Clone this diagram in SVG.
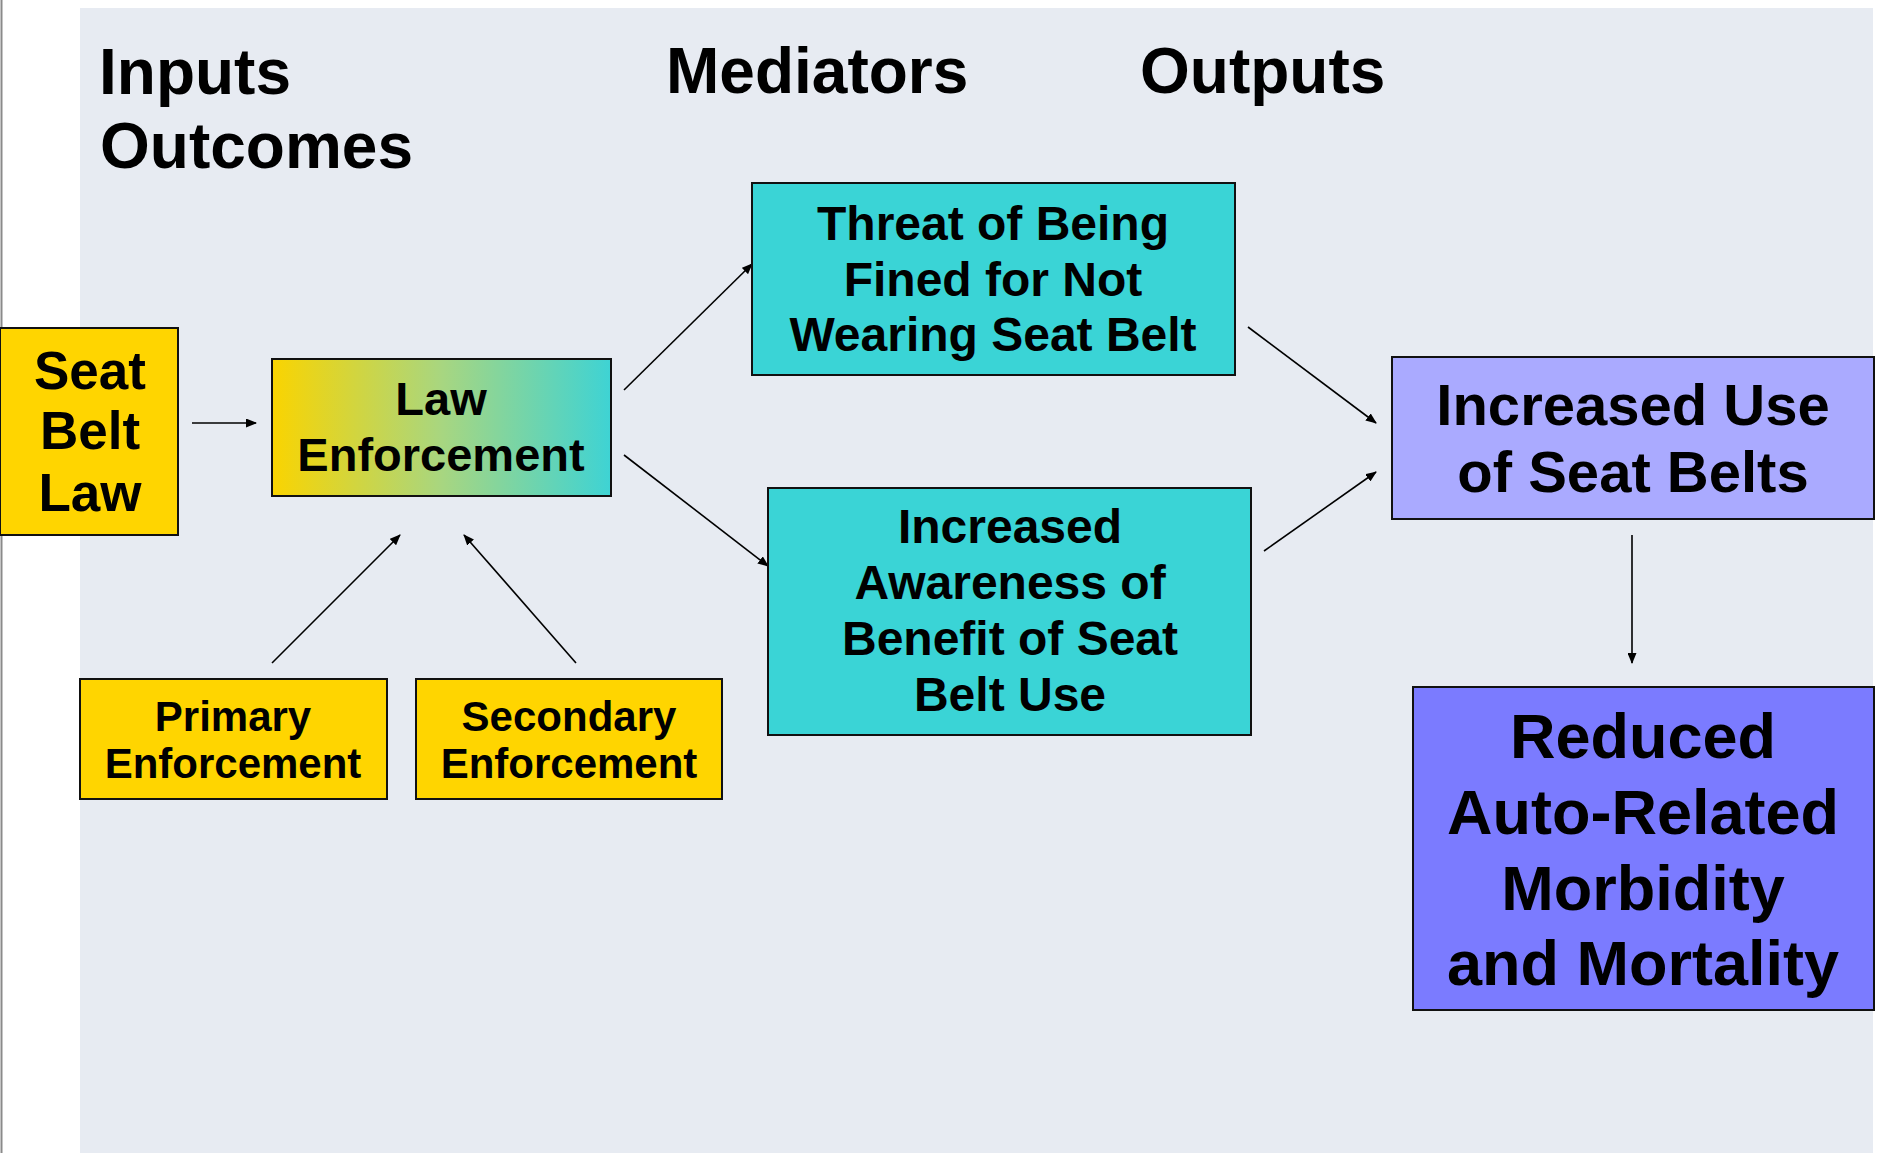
<svg xmlns="http://www.w3.org/2000/svg" width="1878" height="1153" viewBox="0 0 1878 1153">
<defs>
<style>
.t{font-family:"Liberation Sans",Arial,sans-serif;font-weight:bold;fill:#000;}
.hd{font-size:64px;}
.box{stroke:#111;stroke-width:2;}
.yel{fill:#FFD500;}
.tq{fill:#3AD4D6;}
.lp{fill:#AAAAFF;}
.dp{fill:#7B7BFF;}
.c{text-anchor:middle;}
.conn line{stroke:#000;stroke-width:1.6;marker-end:url(#ah);}
</style>
<marker id="ah" markerUnits="userSpaceOnUse" markerWidth="11" markerHeight="9" refX="10" refY="4.5" orient="auto">
<path d="M0,0 L11,4.5 L0,9 z" fill="#000"/>
</marker>
<linearGradient id="lg" x1="0" y1="0" x2="1" y2="0">
<stop offset="0" stop-color="#FAD400"/>
<stop offset="0.5" stop-color="#A8D680"/>
<stop offset="1" stop-color="#3ED3D4"/>
</linearGradient>
</defs>
<rect x="0" y="0" width="1878" height="1153" fill="#FFFFFF"/>
<rect x="80" y="8" width="1793" height="1145" fill="#E7EBF2"/>
<line x1="1.5" y1="0" x2="1.5" y2="1153" stroke="#8A8A8A" stroke-width="2"/>

<g id="headers">
<text class="t hd" x="99" y="94">Inputs</text>
<text class="t hd" x="100" y="168">Outcomes</text>
<text class="t hd" x="666" y="93">Mediators</text>
<text class="t hd" x="1140" y="93">Outputs</text>
</g>

<g class="conn" id="connectors">
<line x1="192" y1="423" x2="256" y2="423"/>
<line x1="624" y1="390" x2="752" y2="264"/>
<line x1="624" y1="455" x2="768" y2="566"/>
<line x1="272" y1="663" x2="400" y2="535"/>
<line x1="576" y1="663" x2="464" y2="535"/>
<line x1="1248" y1="327" x2="1376" y2="423"/>
<line x1="1264" y1="551" x2="1376" y2="472"/>
<line x1="1632" y1="535" x2="1632" y2="663"/>
</g>

<g id="seat-belt-law">
<rect class="box yel" x="0" y="328" width="178" height="207"/>
<text class="t c" x="90" y="389" font-size="53">Seat</text>
<text class="t c" x="90" y="449" font-size="53">Belt</text>
<text class="t c" x="90" y="511" font-size="53">Law</text>
</g>

<g id="law-enforcement">
<rect class="box" x="272" y="359" width="339" height="137" fill="url(#lg)"/>
<text class="t c" x="441" y="415" font-size="47">Law</text>
<text class="t c" x="441" y="471" font-size="47">Enforcement</text>
</g>

<g id="primary-enforcement">
<rect class="box yel" x="80" y="679" width="307" height="120"/>
<text class="t c" x="233" y="731" font-size="42">Primary</text>
<text class="t c" x="233" y="778" font-size="42">Enforcement</text>
</g>

<g id="secondary-enforcement">
<rect class="box yel" x="416" y="679" width="306" height="120"/>
<text class="t c" x="569" y="731" font-size="42">Secondary</text>
<text class="t c" x="569" y="778" font-size="42">Enforcement</text>
</g>

<g id="threat">
<rect class="box tq" x="752" y="183" width="483" height="192"/>
<text class="t c" x="993" y="240" font-size="48">Threat of Being</text>
<text class="t c" x="993" y="296" font-size="48">Fined for Not</text>
<text class="t c" x="993" y="351" font-size="48">Wearing Seat Belt</text>
</g>

<g id="awareness">
<rect class="box tq" x="768" y="488" width="483" height="247"/>
<text class="t c" x="1010" y="543" font-size="48">Increased</text>
<text class="t c" x="1010" y="599" font-size="48">Awareness of</text>
<text class="t c" x="1010" y="655" font-size="48">Benefit of Seat</text>
<text class="t c" x="1010" y="711" font-size="48">Belt Use</text>
</g>

<g id="increased-use">
<rect class="box lp" x="1392" y="357" width="482" height="162"/>
<text class="t c" x="1633" y="425" font-size="58">Increased Use</text>
<text class="t c" x="1633" y="492" font-size="58">of Seat Belts</text>
</g>

<g id="reduced">
<rect class="box dp" x="1413" y="687" width="461" height="323"/>
<text class="t c" x="1643" y="758" font-size="63">Reduced</text>
<text class="t c" x="1643" y="834" font-size="63">Auto-Related</text>
<text class="t c" x="1643" y="910" font-size="63">Morbidity</text>
<text class="t c" x="1643" y="985" font-size="63">and Mortality</text>
</g>
</svg>
